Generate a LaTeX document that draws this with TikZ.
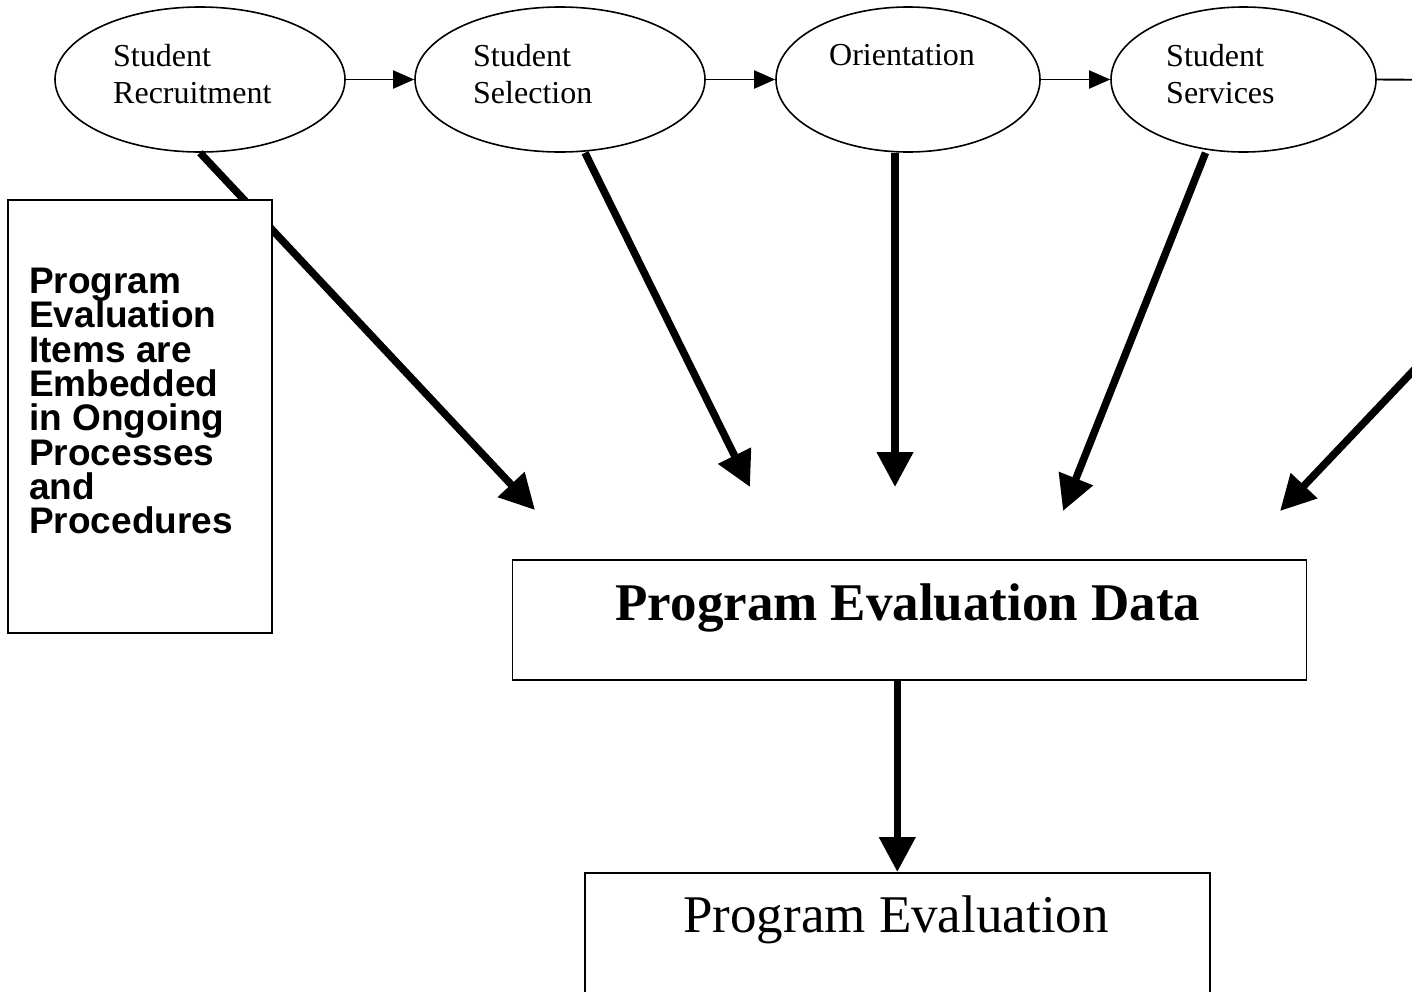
\documentclass[tikz,border=0pt]{standalone}
\usepackage{fontspec}
\setmainfont{Liberation Serif}
\newfontfamily\arialfont{Liberation Sans}
\usetikzlibrary{arrows.meta,shapes.geometric,calc}
\newcommand\mysidefont{\fontsize{37}{34.3}\selectfont\arialfont\bfseries\lineskiplimit=-50pt\relax}
\begin{document}
\begin{tikzpicture}[x=1pt,y=-1pt,
  ellip/.style={ellipse, draw, line width=1.6pt, minimum height=145pt, inner sep=0pt},
  etext/.style={anchor=north west, inner sep=0pt, align=left, font=\fontsize{32}{37}\selectfont},
  thinarrow/.style={line width=1.9pt, -{Triangle[length=21pt,width=18pt]}},
  thickarrow/.style={line width=7.5pt, -{Triangle[length=35pt,width=35pt]}},
  boxstyle/.style={draw, line width=1.6pt, fill=white, inner sep=0pt, anchor=north west}]
\useasboundingbox (0,0) rectangle (1412,991);
\clip (0,0) rectangle (1412,991);

% process ellipses
\node[ellip, minimum width=290pt] (e1) at (200,79.5) {};
\node[ellip, minimum width=290pt] (e2) at (560,79.5) {};
\node[ellip, minimum width=264pt] (e3) at (908,79.5) {};
\node[ellip, minimum width=265pt] (e4) at (1243.5,79.5) {};
\node[etext] (l1) at (113,44) {Student\\Recruitment};
\node[etext] (l2) at (473,44) {Student\\Selection};
\node[etext] (l3) at (829,44) {Orientation};
\node[etext] (l4) at (1166,44) {Student\\Services};

% off-page continuation
\coordinate (e5w) at (1446,80);
\coordinate (s5) at (1470,311);

% thin arrows between ellipses
\draw[thinarrow] (e1.east) -- (e2.west);
\draw[thinarrow] (e2.east) -- (e3.west);
\draw[thinarrow] (e3.east) -- (e4.west);
\draw[thinarrow] (e4.east) -- (e5w);

% tips of thick arrows
\coordinate (t1) at (535,510);
\coordinate (t2) at (750,487);
\coordinate (t3) at (895,487);
\coordinate (t4) at (1063,511);
\coordinate (t5) at (1280,511);

\draw[thickarrow] (e1.south) -- (t1);
\draw[thickarrow] ($(e2.south)+(25,0)$) -- (t2);
\draw[thickarrow] (t3 |- e3.south) -- (t3);
\draw[thickarrow] ($(e4.south)+(-38,0)$) -- (t4);
\draw[thickarrow] (s5) -- (t5);

% side box
\node[boxstyle, minimum width=264pt, minimum height=433pt] (side) at (7,199) {};
\node[anchor=north west, inner sep=0pt, align=left, font=\mysidefont]
  (sidetext) at (29,268) {Program\\Evaluation\\Items are\\Embedded\\in Ongoing\\Processes\\and\\Procedures};

% data box
\node[boxstyle, minimum width=794pt, minimum height=120pt] (pedbox) at (511.5,559) {};
\node[anchor=base, inner sep=0pt, font=\bfseries\fontsize{53}{60}\selectfont] (pedtext) at (908,620) {Program Evaluation Data};

% evaluation box
\node[boxstyle, minimum width=625pt, minimum height=140pt] (pebox) at (584,872) {};
\node[anchor=base, inner sep=0pt, font=\fontsize{53}{60}\selectfont] (petext) at (896,932) {Program Evaluation};

\draw[thickarrow] (pedbox.south -| pebox.north) -- (pebox.north);
\end{tikzpicture}
\end{document}
